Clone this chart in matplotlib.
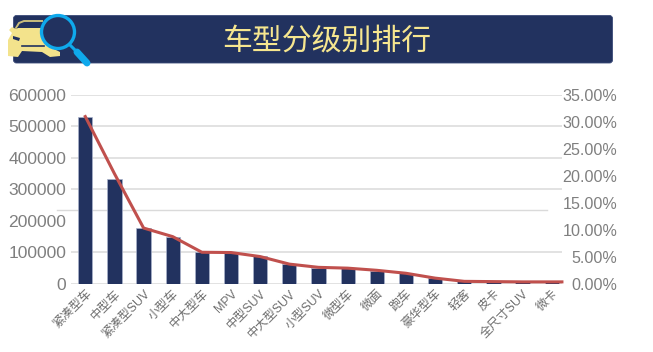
import matplotlib
matplotlib.use("Agg")
import matplotlib.pyplot as plt
from matplotlib.patches import FancyBboxPatch, Polygon, Circle
from matplotlib.ticker import FuncFormatter

categories = ["紧凑型车", "中型车", "紧凑型SUV", "小型车", "中大型车", "MPV", "中型SUV", "中大型SUV",
              "小型SUV", "微型车", "微面", "跑车", "豪华型车", "轻客", "皮卡", "全尺寸SUV", "微卡"]
sales = [531000, 332600, 175700, 147000, 100000, 98000, 87000, 62000,
         50000, 48000, 41000, 33000, 17000, 7000, 5500, 4500, 4000]
share = [31.0, 20.4, 10.3, 8.7, 5.8, 5.75, 5.0, 3.6, 3.0, 2.85, 2.45, 1.9, 1.0, 0.4, 0.35, 0.3, 0.3]
left_ticks = [0, 100000, 200000, 300000, 400000, 500000, 600000]
right_ticks = [0, 5, 10, 15, 20, 25, 30, 35]
grid_values = [0, 100000, 300000, 400000, 500000, 600000]
title = "车型分级别排行"

W, H = 653, 352
plt.rcParams["font.family"] = ["Liberation Sans", "Noto Sans CJK SC", "DejaVu Sans"]
fig = plt.figure(figsize=(W / 100, H / 100), dpi=100, facecolor="white")

L, R, T, B = 70.7, 566.3, 95, 283.5
GRID = "#DADADA"
GRAY = "#7F7F7F"
NAVY = "#22325F"
GRID_END = 16.35  # rules and the line stop a little before the axis end

# underlay for the stray rule that sits behind the bars
un = fig.add_axes([0, 0, 1, 1], zorder=-1)
un.set_xlim(0, W)
un.set_ylim(H, 0)
un.axis("off")
un.plot([57, 547], [210.3, 210.3], color=GRID, lw=1.0)

ax = fig.add_axes([L / W, 1 - B / H, (R - L) / W, (B - T) / H], zorder=1)
ax.patch.set_alpha(0)
ax.bar(range(len(categories)), sales, width=0.49, color=NAVY, edgecolor="#A9B2CC", linewidth=0.5, zorder=3)
ax.hlines(grid_values, -0.5, GRID_END, color=GRID, lw=1.1, zorder=1)
ax.set_xlim(-0.5, 16.5)
ax.set_ylim(0, 600000)
ax.set_yticks(left_ticks)
ax.set_xticks(range(len(categories)))
ax.set_xticklabels(categories, rotation=45, ha="right", va="top", rotation_mode="anchor",
                   fontsize=8.8, color="#6E6E6E")
ax.tick_params(axis="y", length=0, pad=3.3, labelsize=12.6, labelcolor=GRAY)
ax.tick_params(axis="x", length=0, pad=3)
for s in ax.spines.values():
    s.set_visible(False)

ax2 = ax.twinx()
ax2.set_zorder(2)
line_x = list(range(len(categories) - 1)) + [GRID_END]
ax2.plot(line_x, share, color="#C0504D", lw=2.2, solid_joinstyle="round", zorder=5)
ax2.set_ylim(0, 35)
ax2.set_yticks(right_ticks)
ax2.yaxis.set_major_formatter(FuncFormatter(lambda v, p: f"{v:.2f}%"))
ax2.tick_params(axis="y", length=0, pad=36.6, labelsize=11.6, labelcolor=GRAY)
for lab in ax2.get_yticklabels():
    lab.set_ha("right")
for s in ax2.spines.values():
    s.set_visible(False)

# overlay in pixel coordinates for the banner and icon
ov = fig.add_axes([0, 0, 1, 1], zorder=10)
ov.set_xlim(0, W)
ov.set_ylim(H, 0)
ov.axis("off")
ov.patch.set_alpha(0)

ov.add_patch(FancyBboxPatch((13.5, 15.5), 599, 47.5, boxstyle="round,pad=0,rounding_size=3",
                            fc=NAVY, ec="#3A4A78", lw=0.6, zorder=1))
ov.text(327, 41, title, color="#F6E68F", fontsize=21.5, ha="center", va="center",
        family=["Noto Sans CJK SC", "DejaVu Sans"], zorder=2)

CAR = "#F3E38C"
ov.add_patch(Polygon([(8, 56), (8, 40), (12, 33), (9, 30), (12, 27), (16, 29), (20, 27), (46, 27),
                      (48, 46), (60, 52), (60, 56), (50, 57), (42, 52), (22, 51), (18, 57)],
                     closed=True, fc=CAR, ec="none", zorder=2))
ov.plot([16, 19, 24, 42], [28, 23, 21, 21], color="#C9BD7C", lw=1.4, zorder=2)
ov.add_patch(Polygon([(17, 28), (21, 24), (42, 24), (42, 28)], closed=True, fc=NAVY, ec="none", zorder=3))
ov.add_patch(Polygon([(13, 36), (20, 38), (19, 41), (13, 39)], closed=True, fc=NAVY, ec="none", zorder=3))
ov.plot([22, 44], [46, 46], color=NAVY, lw=1.2, zorder=3)

BLUE = "#0FA9EC"
ov.add_patch(Circle((58, 32), 16.5, fc=NAVY, ec=BLUE, lw=2.4, zorder=4))
ov.plot([69, 75], [44, 50], color=BLUE, lw=2.2, solid_capstyle="butt", zorder=4)
ov.plot([77, 87], [52, 63], color=BLUE, lw=5, solid_capstyle="round", zorder=4)

fig.savefig("out.png", dpi=100, facecolor="white")
